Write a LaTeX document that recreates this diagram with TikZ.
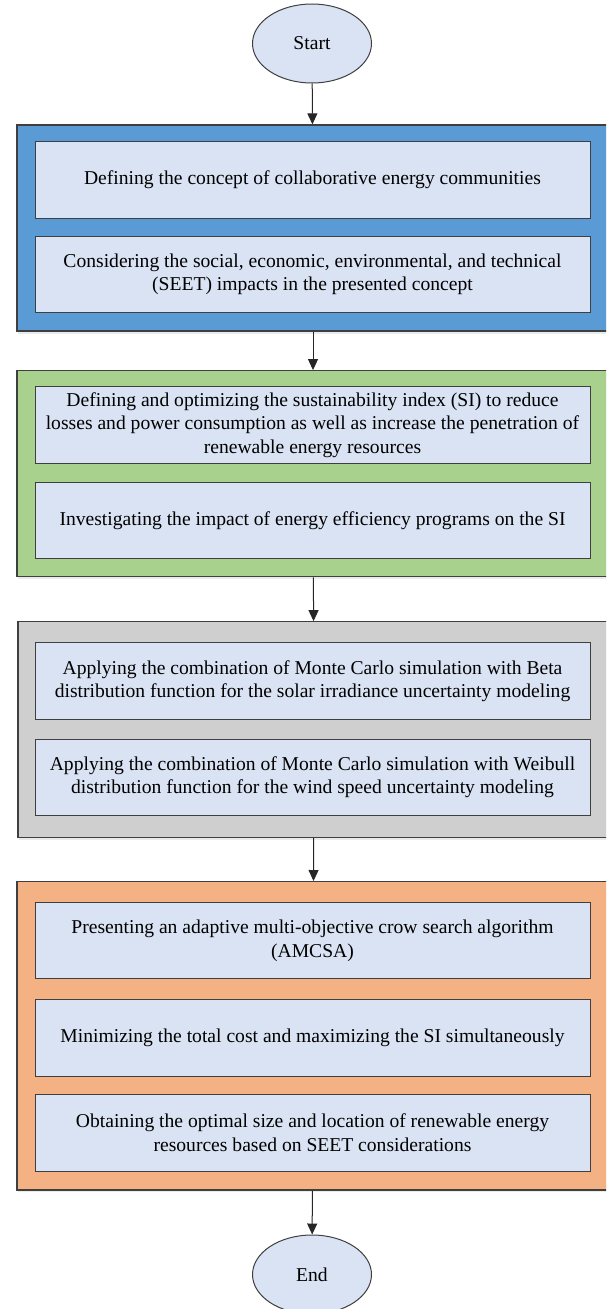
\documentclass[tikz,border=0pt]{standalone}
\usepackage{fontspec}
\setmainfont{Liberation Serif}
\usetikzlibrary{arrows.meta,shapes.geometric,shadows}

\definecolor{stageblue}{HTML}{5B9BD5}
\definecolor{stagegreen}{HTML}{A9D18E}
\definecolor{stagegray}{HTML}{CFCFD0}
\definecolor{stageorange}{HTML}{F4B183}
\definecolor{boxfill}{HTML}{DAE3F3}
\definecolor{edgegray}{HTML}{3F3F3F}

\begin{document}
\begin{tikzpicture}[x=1pt,y=-1pt,
  stagebox/.style 2 args={draw=edgegray,line width=1.3pt,fill=#1,minimum width=592pt,minimum height=#2,inner sep=0pt,
    general shadow={fill=black,opacity=0.08,shadow xshift=0.5pt,shadow yshift=-2.5pt}},
  taskbox/.style={draw=edgegray,line width=1pt,fill=boxfill,minimum width=555pt,minimum height=76.5pt,inner sep=0pt,align=center,font=\fontsize{19.6}{23.3}\selectfont},
  termbox/.style={ellipse,draw=edgegray,line width=1pt,fill=boxfill,minimum width=119pt,minimum height=79pt,inner sep=0pt,font=\fontsize{19.6}{23.3}\selectfont},
  flowarrow/.style={-{Triangle[length=11pt,width=10pt]},line width=1pt,draw=black!85}]

% Page frame, the stage boxes run past the right edge
\useasboundingbox (0,0) rectangle (606,1309);
\clip (0,0) rectangle (606,1309);

% Terminals
\node [termbox] (start) at (312,43.5) {Start};
\node [termbox] (end) at (312,1274.5) {End};

% Stage boxes
\node [stagebox={stageblue}{206pt}] (blue) at (313,228) {};
\node [stagebox={stagegreen}{206pt}] (green) at (313,473.7) {};
\node [stagebox={stagegray}{215.6pt}] (gray) at (314,729.6) {};
\node [stagebox={stageorange}{308.3pt}] (orange) at (313,1035.8) {};

% Tasks of the first stage
\node [taskbox] (concept) at (312.5,180) {Defining the concept of collaborative energy communities};
\node [taskbox] (seet) at (312.5,274.5) {Considering the social, economic, environmental, and technical\\(SEET) impacts in the presented concept};

% Tasks of the second stage
\node [taskbox] (si) at (312.5,425) {Defining and optimizing the sustainability index (SI) to reduce\\losses and power consumption as well as increase the penetration of\\renewable energy resources};
\node [taskbox] (efficiency) at (312.5,520.7) {Investigating the impact of energy efficiency programs on the SI};

% Tasks of the third stage
\node [taskbox] (beta) at (312.5,681) {Applying the combination of Monte Carlo simulation with Beta\\distribution function for the solar irradiance uncertainty modeling};
\node [taskbox] (weibull) at (312.5,777.5) {Applying the combination of Monte Carlo simulation with Weibull\\distribution function for the wind speed uncertainty modeling};

% Tasks of the fourth stage
\node [taskbox] (amcsa) at (312.5,940.7) {Presenting an adaptive multi-objective crow search algorithm\\(AMCSA)};
\node [taskbox] (cost) at (312.5,1037.8) {Minimizing the total cost and maximizing the SI simultaneously};
\node [taskbox] (sizing) at (312.5,1132.8) {Obtaining the optimal size and location of renewable energy\\resources based on SEET considerations};

% Flow between the stages
\draw [flowarrow] (start) -- (blue);
\draw [flowarrow] (blue) -- (green);
\draw [flowarrow] (green) -- (gray);
\draw [flowarrow] (gray) -- (orange);
\draw [flowarrow] (orange) -- (end);

\end{tikzpicture}
\end{document}
